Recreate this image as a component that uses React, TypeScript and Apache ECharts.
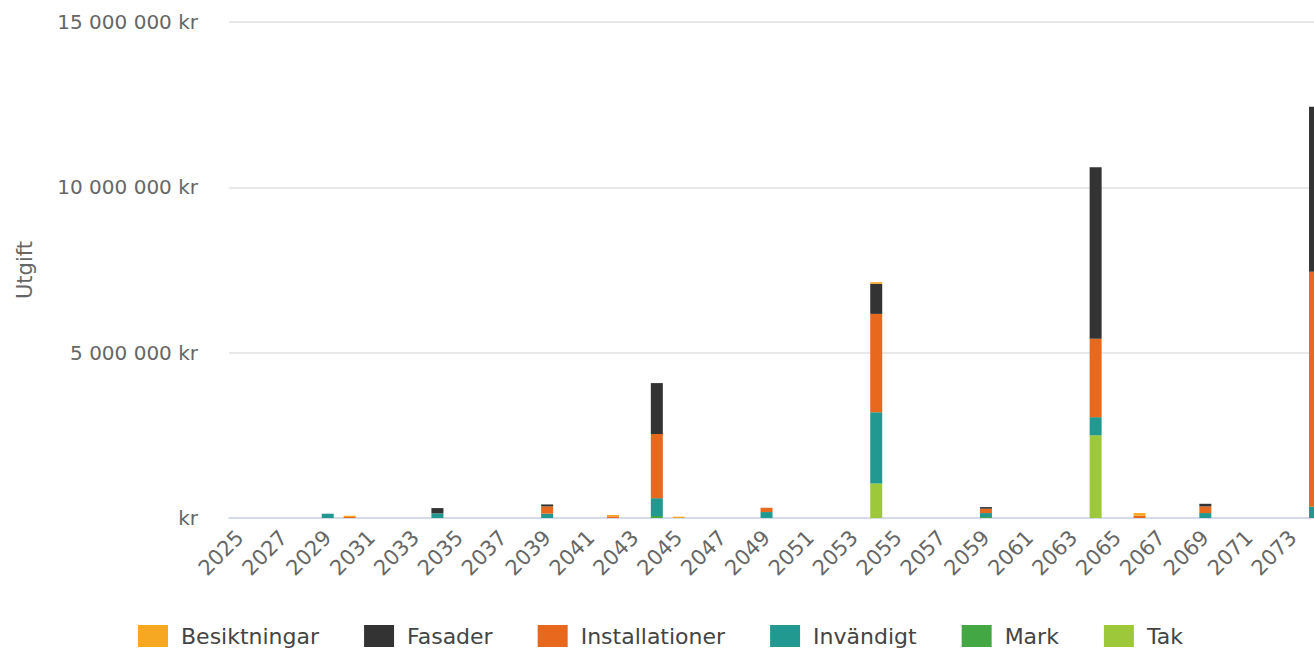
import React, { useEffect, useRef } from "react";
import * as echarts from "echarts";

const years: string[] = [
  "2025", "2026", "2027", "2028", "2029", "2030", "2031", "2032", "2033", "2034",
  "2035", "2036", "2037", "2038", "2039", "2040", "2041", "2042", "2043", "2044",
  "2045", "2046", "2047", "2048", "2049", "2050", "2051", "2052", "2053", "2054",
  "2055", "2056", "2057", "2058", "2059", "2060", "2061", "2062", "2063", "2064",
  "2065", "2066", "2067", "2068", "2069", "2070", "2071", "2072", "2073", "2074",
];

// values in kr, index = year - 2025
const besiktningar: number[] = [
  0, 0, 0, 0, 0, 40000, 0, 0, 0, 0,
  0, 0, 0, 0, 0, 0, 0, 40000, 0, 0,
  40000, 0, 0, 0, 0, 0, 0, 0, 0, 50000,
  0, 0, 0, 0, 0, 0, 0, 0, 0, 0,
  0, 80000, 0, 0, 0, 0, 0, 0, 0, 0,
];
const fasader: number[] = [
  0, 0, 0, 0, 0, 0, 0, 0, 0, 160000,
  0, 0, 0, 0, 60000, 0, 0, 0, 0, 1540000,
  0, 0, 0, 0, 0, 0, 0, 0, 0, 910000,
  0, 0, 0, 0, 50000, 0, 0, 0, 0, 5190000,
  0, 0, 0, 0, 80000, 0, 0, 0, 0, 4990000,
];
const installationer: number[] = [
  0, 0, 0, 0, 0, 30000, 0, 0, 0, 0,
  0, 0, 0, 0, 220000, 0, 0, 50000, 0, 1940000,
  0, 0, 0, 0, 130000, 0, 0, 0, 0, 2975000,
  0, 0, 0, 0, 130000, 0, 0, 0, 0, 2370000,
  0, 70000, 0, 0, 200000, 0, 0, 0, 0, 7110000,
];
const invandigt: number[] = [
  0, 0, 0, 0, 130000, 0, 0, 0, 0, 140000,
  0, 0, 0, 0, 130000, 0, 0, 0, 0, 540000,
  0, 0, 0, 0, 180000, 0, 0, 0, 0, 2150000,
  0, 0, 0, 0, 120000, 0, 0, 0, 0, 550000,
  0, 0, 0, 0, 150000, 0, 0, 0, 0, 340000,
];
const mark: number[] = [
  0, 0, 0, 0, 0, 0, 0, 0, 0, 0,
  0, 0, 0, 0, 0, 0, 0, 0, 0, 60000,
  0, 0, 0, 0, 0, 0, 0, 0, 0, 0,
  0, 0, 0, 0, 30000, 0, 0, 0, 0, 0,
  0, 0, 0, 0, 0, 0, 0, 0, 0, 0,
];
const tak: number[] = [
  0, 0, 0, 0, 0, 0, 0, 0, 0, 0,
  0, 0, 0, 0, 0, 0, 0, 0, 0, 0,
  0, 0, 0, 0, 0, 0, 0, 0, 0, 1047000,
  0, 0, 0, 0, 0, 0, 0, 0, 0, 2500000,
  0, 0, 0, 0, 0, 0, 0, 0, 0, 0,
];

const seriesNames: string[] = ["Besiktningar", "Fasader", "Installationer", "Invändigt", "Mark", "Tak"];
const seriesData: number[][] = [besiktningar, fasader, installationer, invandigt, mark, tak];
const seriesColors: string[] = ["#f7a823", "#333333", "#e8681e", "#229990", "#43a843", "#9dc83a"];

const FONT = "DejaVu Sans";

function formatKr(v: number): string {
  if (v === 0) return "kr";
  const s = String(Math.round(v)).replace(/\B(?=(\d{3})+(?!\d))/g, " ");
  return s + " kr";
}

export default function App() {
  const ref = useRef<HTMLDivElement>(null);
  useEffect(() => {
    if (!ref.current) return;
    const chart = echarts.init(ref.current, undefined, { renderer: "svg" });
    // stack bottom-up: Tak at bottom, Besiktningar on top
    const order = [5, 4, 3, 2, 1, 0];
    chart.setOption({
      animation: false,
      grid: { left: 229, right: 0, top: 22, bottom: 133, containLabel: false },
      legend: {
        data: seriesNames,
        left: 133,
        top: 620,
        icon: "rect",
        itemWidth: 30,
        itemHeight: 22,
        itemGap: 45,
        textStyle: { fontFamily: FONT, fontSize: 22, color: "#444444", padding: [0, 0, 0, 8] },
      },
      xAxis: {
        type: "category",
        data: years,
        axisLine: { lineStyle: { color: "#ccd6eb", width: 1.5 } },
        axisTick: { alignWithLabel: true, interval: 1, length: 15, lineStyle: { color: "#ccd6eb", width: 1.5 } },
        axisLabel: {
          interval: 1,
          rotate: 45,
          margin: 16,
          fontFamily: FONT,
          fontSize: 21,
          color: "#666666",
        },
      },
      yAxis: {
        type: "value",
        min: 0,
        max: 15000000,
        interval: 5000000,
        name: "Utgift",
        nameLocation: "middle",
        nameGap: 194,
        nameTextStyle: { fontFamily: FONT, fontSize: 21, color: "#666666" },
        axisLine: { show: false },
        axisTick: { show: false },
        splitLine: { lineStyle: { color: "#e0e0e0", width: 1.5 } },
        axisLabel: {
          formatter: formatKr,
          margin: 31,
          fontFamily: FONT,
          fontSize: 20,
          color: "#666666",
        },
      },
      series: order.map((i) => ({
        name: seriesNames[i],
        type: "bar",
        stack: "total",
        barWidth: 12,
        itemStyle: { color: seriesColors[i] },
        data: seriesData[i],
      })),
    });
    return () => chart.dispose();
  }, []);
  return (
    <div
      style={{
        position: "fixed",
        left: 0,
        top: 0,
        width: 1314,
        height: 651,
        overflow: "hidden",
        background: "#ffffff",
      }}
    >
      <div ref={ref} style={{ width: 1326, height: 651 }} />
    </div>
  );
}
